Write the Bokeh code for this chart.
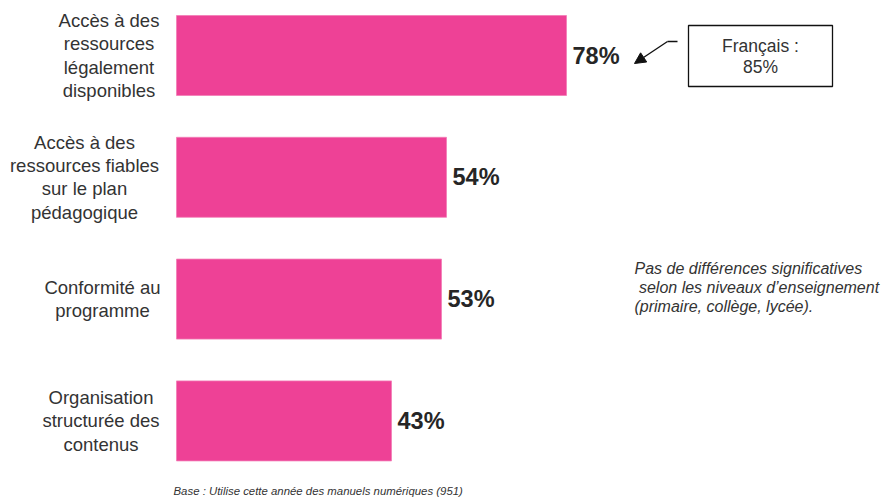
from bokeh.plotting import figure
from bokeh.models import ColumnDataSource, Range1d, Arrow, NormalHead
from bokeh.core.properties import value
from bokeh.embed import file_html
from bokeh.resources import INLINE

# ---- data ----
categories = [
    ["Accès à des", "ressources", "légalement", "disponibles"],
    ["Accès à des", "ressources fiables", "sur le plan", "pédagogique"],
    ["Conformité au", "programme"],
    ["Organisation", "structurée des", "contenus"],
]
values = [78, 54, 53, 43]
value_labels = ["78%", "54%", "53%", "43%"]
callout_lines = ["Français :", "85%"]
note_lines = ["Pas de différences significatives",
              "\u00a0selon les niveaux d\u2019enseignement",
              "(primaire, collège, lycée)."]
footnote = "Base : Utilise cette année des manuels numériques (951)"

# ---- layout helpers (pixels) ----
PX_PER_UNIT_X = 5.0
ROW_PX = 121.8
W, H = 881, 498
X0, Y0 = 176, 55                             # pixel position of value 0 / first row
label_center_px = [-67.5, -92, -74, -75.5]   # offset of label block centre from bar start
LINE_PX = 23.3

FONT = value("Liberation Sans")
PINK = "#EE4196"
TXT = "#333333"

p = figure(width=W, height=H, output_backend="svg", toolbar_location=None,
           x_range=Range1d(-X0 / PX_PER_UNIT_X, (W - X0) / PX_PER_UNIT_X),
           y_range=Range1d((H - Y0) / ROW_PX, -Y0 / ROW_PX),
           min_border=0, outline_line_color=None)
p.axis.visible = False
p.grid.visible = False

ys = list(range(len(values)))
bars = ColumnDataSource(dict(y=ys, v=values, lab=value_labels))
p.hbar(y="y", right="v", left=0, height=80 / ROW_PX, source=bars,
       fill_color=PINK, line_color="#F27DB6", line_width=0.8)

p.text(x="v", y="y", text="lab", source=bars, x_offset=6,
       text_font=FONT, text_font_style="bold", text_font_size="23.5px",
       text_color="#262626", text_baseline="middle", text_align="left")

# category labels, one line per glyph, centred within the block
lx, ly, lt, lxo, lyo = [], [], [], [], []
for i, lines in enumerate(categories):
    n = len(lines)
    for k, line in enumerate(lines):
        lx.append(0)
        ly.append(i)
        lt.append(line)
        lxo.append(label_center_px[i])
        lyo.append((k - (n - 1) / 2) * LINE_PX)
p.text(x="x", y="y", text="t", x_offset="xo", y_offset="yo",
       source=ColumnDataSource(dict(x=lx, y=ly, t=lt, xo=lxo, yo=lyo)),
       text_font=FONT, text_font_size="18.5px", text_color=TXT,
       text_align="center", text_baseline="middle")

def px_x(px):
    return (px - X0) / PX_PER_UNIT_X

def px_y(py):
    return (py - Y0) / ROW_PX

# callout box for the first bar
p.quad(left=[px_x(688)], right=[px_x(832)], top=[px_y(25)], bottom=[px_y(86)],
       fill_color=None, line_color="#111111", line_width=1.3)
p.text(x=[px_x(760)] * 2, y=[px_y(45), px_y(66)], text=callout_lines,
       text_font=FONT, text_font_size="17.5px", text_color=TXT,
       text_align="center", text_baseline="middle")
p.line(x=[px_x(677), px_x(667)], y=[px_y(41), px_y(41)], line_color="#111111", line_width=1.3)
p.add_layout(Arrow(x_start=px_x(667), y_start=px_y(41), x_end=px_x(634), y_end=px_y(63),
                   line_color="#111111", line_width=1.3,
                   end=NormalHead(size=11, fill_color="#111111", line_color="#111111")))

# note
p.text(x=[px_x(634)] * 3, y=[px_y(268), px_y(287), px_y(306)], text=note_lines,
       text_font=FONT, text_font_style="italic", text_font_size="16px", text_color=TXT,
       text_align="left", text_baseline="middle")

# footnote
p.text(x=[px_x(173)], y=[px_y(490)], text=[footnote],
       text_font=FONT, text_font_style="italic", text_font_size="11.4px", text_color=TXT,
       text_align="left", text_baseline="middle")

open("out.html", "w").write(file_html(p, INLINE))
